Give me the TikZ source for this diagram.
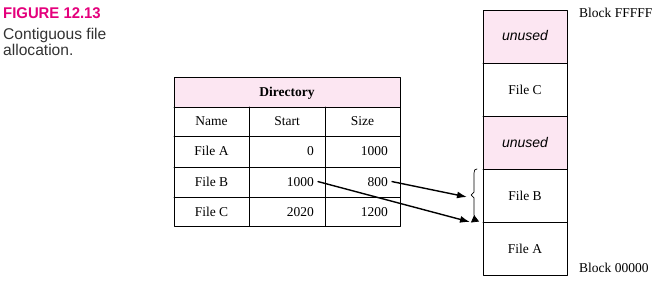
\documentclass[tikz,border=0pt]{standalone}
\usepackage{fontspec}
\setmainfont{Liberation Serif}
\setsansfont{Liberation Sans}
\usetikzlibrary{arrows.meta}
\definecolor{figpink}{HTML}{E4007C}
\definecolor{cellpink}{HTML}{FCE6F2}
\definecolor{capgray}{HTML}{333333}
\begin{document}
\begin{tikzpicture}[x=1pt,y=-1pt,line cap=round,line join=round,
		txt/.style={inner sep=0pt,anchor=base,font=\fontsize{13.5}{15}\selectfont},
		num/.style={txt,anchor=base east},
		free/.style={inner sep=0pt,anchor=base,font=\sffamily\itshape\fontsize{14}{16}\selectfont},
		ptr/.style={-{Latex[length=10pt,width=7pt]},line width=1.4pt}]
	\useasboundingbox (0,0) rectangle (669,294);
	% caption
	\node[anchor=base west,inner sep=0pt,text=figpink,font=\sffamily\bfseries\fontsize{15.5}{16}\selectfont] (fig) at (3,19) {\scalebox{0.96}[1]{FIGURE 12.13}};
	\node[anchor=base west,inner sep=0pt,text=capgray,font=\sffamily\fontsize{15.6}{16}\selectfont] (cap1) at (3,40) {Contiguous file};
	\node[anchor=base west,inner sep=0pt,text=capgray,font=\sffamily\fontsize{15.6}{16}\selectfont] (cap2) at (3,56) {allocation.};
	% directory table
	\fill[cellpink] (174,77) rectangle (400,107);
	\draw[line width=0.9pt] (174,77) rectangle (400,226);
	\foreach \y in {107,136,167,197}{\draw[line width=0.9pt] (174,\y) -- (400,\y);}
	\foreach \x in {249,325}{\draw[line width=0.9pt] (\x,107) -- (\x,226);}
	\node[txt,font=\bfseries\fontsize{13.5}{15}\selectfont] (dir) at (287,97) {Directory};
	\node[txt] (hname) at (211.5,126) {Name};
	\node[txt] (hstart) at (287,126) {Start};
	\node[txt] (hsize) at (362.5,126) {Size};
	\foreach \n/\s/\z/\y in {A/0/1000/156,B/1000/800/186,C/2020/1200/216}{
		\node[txt] (name\n) at (211.5,\y) {File \n};
		\node[num] (start\n) at (314,\y) {\s};
		\node[num] (size\n) at (388,\y) {\z};
	}
	% disk blocks
	\fill[cellpink] (483,10) rectangle (567,63);
	\fill[cellpink] (483,116) rectangle (567,169);
	\draw[line width=0.9pt] (483,10) rectangle (567,275);
	\foreach \y in {63,116,169,222}{\draw[line width=0.9pt] (483,\y) -- (567,\y);}
	\node[free] (free1) at (525,41) {unused};
	\node[txt] (blkC) at (525,94.5) {File C};
	\node[free] (free2) at (525,147) {unused};
	\node[txt] (blkB) at (525,200) {File B};
	\node[txt] (blkA) at (525,253) {File A};
	\node[txt,anchor=base west] (topblk) at (579,18) {Block FFFFF};
	\node[txt,anchor=base west] (botblk) at (579,272) {Block 00000};
	% brace and pointers
	\coordinate (tipB) at (467,197);
	\coordinate (endB) at (470,222);
	\coordinate (footB) at (475,222);
	\draw[line width=0.7pt,{Triangle[reversed,length=7pt,width=8pt]}-] (footB) -- (474,214) -- (474,198) -- (471,195) -- (474,192) -- (474,173) .. controls (474,170) and (475,169) .. (477,169);
	\draw[ptr] ([xshift=4pt]sizeB.east) -- (tipB);
	\draw[ptr] ([xshift=4pt]startB.east) -- (endB);
\end{tikzpicture}
\end{document}
